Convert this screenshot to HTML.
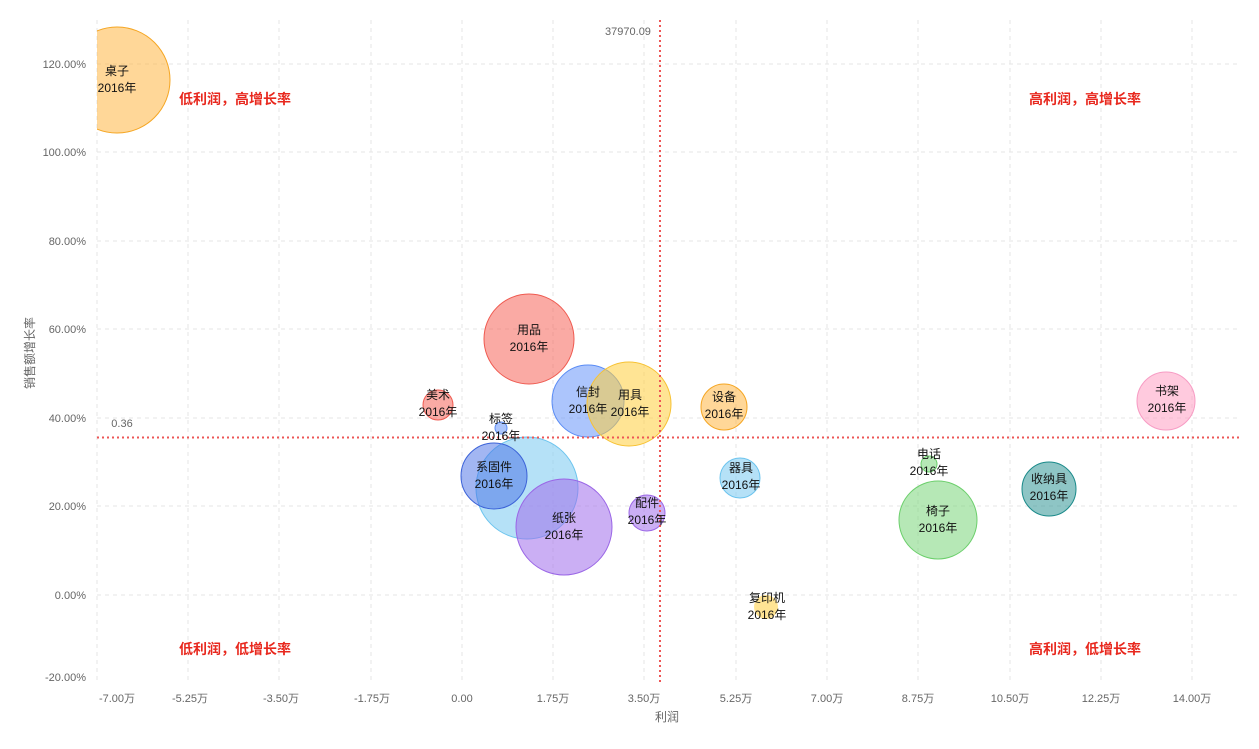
<!DOCTYPE html><html><head><meta charset="utf-8"><style>body{margin:0;background:#fff}svg{display:block}</style></head><body>
<svg width="1259" height="749" xmlns="http://www.w3.org/2000/svg" font-family="Liberation Sans, Noto Sans CJK SC, sans-serif">
<g stroke="#e6e6e6" stroke-dasharray="4,4" stroke-width="1">
<line x1="97" y1="64" x2="1240" y2="64"/><line x1="97" y1="152" x2="1240" y2="152"/><line x1="97" y1="241" x2="1240" y2="241"/><line x1="97" y1="329" x2="1240" y2="329"/><line x1="97" y1="418" x2="1240" y2="418"/><line x1="97" y1="506" x2="1240" y2="506"/><line x1="97" y1="595" x2="1240" y2="595"/>
<line x1="97" y1="20" x2="97" y2="683"/><line x1="188" y1="20" x2="188" y2="683"/><line x1="279" y1="20" x2="279" y2="683"/><line x1="371" y1="20" x2="371" y2="683"/><line x1="462" y1="20" x2="462" y2="683"/><line x1="553" y1="20" x2="553" y2="683"/><line x1="644" y1="20" x2="644" y2="683"/><line x1="736" y1="20" x2="736" y2="683"/><line x1="827" y1="20" x2="827" y2="683"/><line x1="918" y1="20" x2="918" y2="683"/><line x1="1010" y1="20" x2="1010" y2="683"/><line x1="1101" y1="20" x2="1101" y2="683"/><line x1="1192" y1="20" x2="1192" y2="683"/>
</g>
<g font-size="11" fill="#666" text-anchor="end">
<text x="86" y="68">120.00%</text><text x="86" y="156">100.00%</text><text x="86" y="245">80.00%</text><text x="86" y="333">60.00%</text><text x="86" y="422">40.00%</text><text x="86" y="510">20.00%</text><text x="86" y="599">0.00%</text><text x="86" y="681">-20.00%</text>
</g>
<g font-size="11" fill="#666" text-anchor="middle">
<text x="117" y="702">-7.00万</text><text x="190" y="702">-5.25万</text><text x="281" y="702">-3.50万</text><text x="372" y="702">-1.75万</text><text x="462" y="702">0.00</text><text x="553" y="702">1.75万</text><text x="644" y="702">3.50万</text><text x="736" y="702">5.25万</text><text x="827" y="702">7.00万</text><text x="918" y="702">8.75万</text><text x="1010" y="702">10.50万</text><text x="1101" y="702">12.25万</text><text x="1192" y="702">14.00万</text>
<text x="667" y="721" font-size="12">利润</text>
<text x="0" y="0" font-size="12" transform="translate(34,353) rotate(-90)">销售额增长率</text>
<text x="628" y="35">37970.09</text><text x="122" y="427">0.36</text>
</g>
<defs><clipPath id="c"><rect x="97" y="0" width="1162" height="690"/></clipPath></defs>
<g clip-path="url(#c)" stroke-width="1">
<circle cx="117" cy="80" r="53" fill="rgba(255,176,50,0.5)" stroke="#f5a623"/>
<circle cx="527" cy="488" r="51" fill="rgba(120,200,240,0.55)" stroke="#6cc4ee"/>
<circle cx="529" cy="339" r="45" fill="rgba(246,100,90,0.55)" stroke="#ef5a50"/>
<circle cx="588" cy="401" r="36" fill="rgba(90,140,250,0.5)" stroke="#5a8cf5"/>
<circle cx="629" cy="404" r="42" fill="rgba(255,205,60,0.55)" stroke="#f7c234"/>
<circle cx="438" cy="405" r="15" fill="rgba(246,100,90,0.55)" stroke="#ef5a50"/>
<circle cx="501" cy="428" r="6" fill="rgba(90,140,250,0.5)" stroke="#5a8cf5"/>
<circle cx="494" cy="476" r="33" fill="rgba(70,110,230,0.5)" stroke="#3c63d8"/>
<circle cx="564" cy="527" r="48" fill="rgba(160,110,235,0.55)" stroke="#9a66e6"/>
<circle cx="647" cy="513" r="18" fill="rgba(160,110,235,0.55)" stroke="#9a66e6"/>
<circle cx="724" cy="407" r="23" fill="rgba(255,176,50,0.5)" stroke="#f5a623"/>
<circle cx="740" cy="478" r="20" fill="rgba(120,200,240,0.55)" stroke="#6cc4ee"/>
<circle cx="766" cy="607" r="12" fill="rgba(255,205,60,0.55)" stroke="none"/>
<circle cx="929" cy="464" r="8" fill="rgba(110,210,110,0.5)" stroke="#6ccf6c"/>
<circle cx="938" cy="520" r="39" fill="rgba(110,210,110,0.5)" stroke="#6ccf6c"/>
<circle cx="1049" cy="489" r="27" fill="rgba(30,140,140,0.5)" stroke="#1a8a8a"/>
<circle cx="1166" cy="401" r="29" fill="rgba(255,150,190,0.5)" stroke="#f79cc4"/>
</g>
<g stroke="#ee5555" stroke-width="2" stroke-dasharray="2,3">
<line x1="660" y1="20" x2="660" y2="683"/><line x1="97" y1="437.5" x2="1240" y2="437.5"/>
</g>
<g font-size="12" fill="#111" text-anchor="middle">
<text x="117" y="75">桌子</text><text x="117" y="92">2016年</text>
<text x="529" y="334">用品</text><text x="529" y="351">2016年</text>
<text x="588" y="396">信封</text><text x="588" y="413">2016年</text>
<text x="630" y="399">用具</text><text x="630" y="416">2016年</text>
<text x="438" y="399">美术</text><text x="438" y="416">2016年</text>
<text x="501" y="423">标签</text><text x="501" y="440">2016年</text>
<text x="494" y="471">系固件</text><text x="494" y="488">2016年</text>
<text x="564" y="522">纸张</text><text x="564" y="539">2016年</text>
<text x="647" y="507">配件</text><text x="647" y="524">2016年</text>
<text x="724" y="401">设备</text><text x="724" y="418">2016年</text>
<text x="741" y="472">器具</text><text x="741" y="489">2016年</text>
<text x="767" y="602">复印机</text><text x="767" y="619">2016年</text>
<text x="929" y="458">电话</text><text x="929" y="475">2016年</text>
<text x="938" y="515">椅子</text><text x="938" y="532">2016年</text>
<text x="1049" y="483">收纳具</text><text x="1049" y="500">2016年</text>
<text x="1167" y="395">书架</text><text x="1167" y="412">2016年</text>
</g>
<g font-size="14" font-weight="bold" fill="#e8281e" text-anchor="middle">
<text x="235" y="104">低利润，高增长率</text><text x="1085" y="104">高利润，高增长率</text>
<text x="235" y="654">低利润，低增长率</text><text x="1085" y="654">高利润，低增长率</text>
</g>
</svg></body></html>
